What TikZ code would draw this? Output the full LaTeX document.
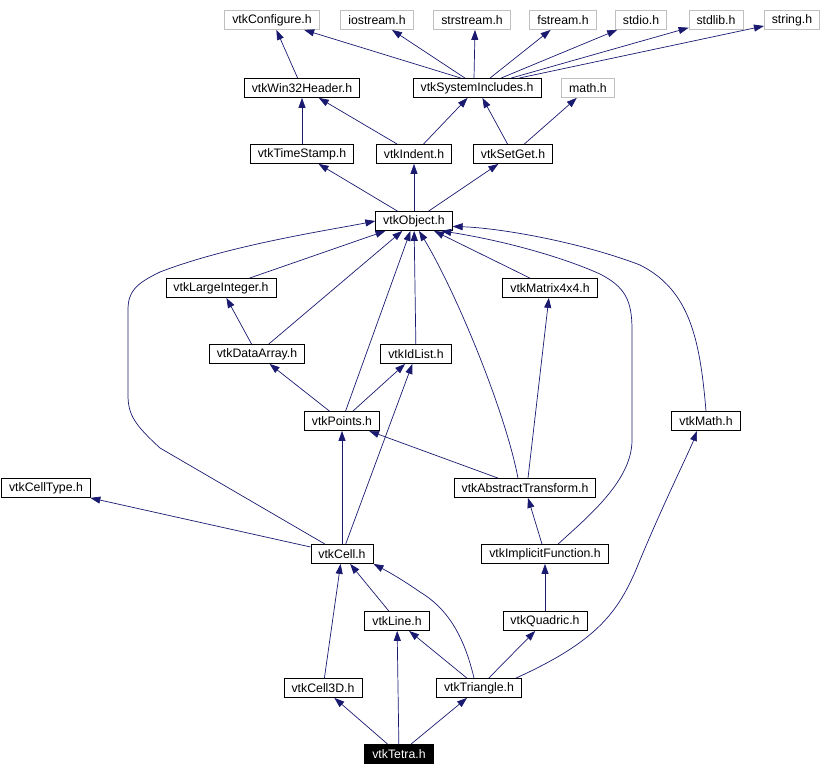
\documentclass[tikz,border=0pt]{standalone}
\usepackage{fontspec}
\setmainfont{Liberation Sans}
\usetikzlibrary{arrows.meta}
\definecolor{edgeblue}{HTML}{191970}
\definecolor{extgray}{HTML}{BFBFBF}

\begin{document}
\begin{tikzpicture}[x=1pt, y=-1pt,
  hdr/.style={draw=black, line width=0.8pt, minimum height=19pt, inner xsep=7.5pt, inner ysep=0pt, font=\fontsize{12.3}{14}\selectfont},
  syshdr/.style={hdr, draw=extgray},
  focushdr/.style={hdr, fill=black, text=white},
  dep/.style={-{Triangle[length=10pt,width=7pt]}, draw=edgeblue, line width=0.7pt},
]
\useasboundingbox (0,0) rectangle (821,776);

% === System headers (top row) ===
\node[syshdr] (cfg) at (272,20) {vtkConfigure.h};
\node[syshdr] (iostr) at (377,20) {iostream.h};
\node[syshdr] (strstr) at (472,20) {strstream.h};
\node[syshdr] (fstr) at (563,20) {fstream.h};
\node[syshdr] (stdio) at (641,20) {stdio.h};
\node[syshdr] (stdlib) at (716,20) {stdlib.h};
\node[syshdr] (string) at (792,20) {string.h};

% === Common headers ===
\node[hdr] (w32) at (302,88) {vtkWin32Header.h};
\node[hdr] (sysinc) at (477,88) {vtkSystemIncludes.h};
\node[syshdr] (mathh) at (588,88) {math.h};

\node[hdr] (tstamp) at (302,154) {vtkTimeStamp.h};
\node[hdr] (indent) at (414,154) {vtkIndent.h};
\node[hdr] (setget) at (513,154) {vtkSetGet.h};

\node[hdr] (obj) at (414,221) {vtkObject.h};

% === Data and math headers ===
\node[hdr] (lint) at (221,288) {vtkLargeInteger.h};
\node[hdr] (mat4) at (550,288) {vtkMatrix4x4.h};
\node[hdr] (dataarr) at (257,354) {vtkDataArray.h};
\node[hdr] (idlist) at (416,354) {vtkIdList.h};
\node[hdr] (points) at (342,421) {vtkPoints.h};
\node[hdr] (vmath) at (706,421) {vtkMath.h};

% === Cell headers ===
\node[hdr] (celltype) at (46,488) {vtkCellType.h};
\node[hdr] (abstr) at (525,488) {vtkAbstractTransform.h};
\node[hdr] (cell) at (342,554) {vtkCell.h};
\node[hdr] (implf) at (545,554) {vtkImplicitFunction.h};
\node[hdr] (line) at (397,621) {vtkLine.h};
\node[hdr] (quadric) at (545,621) {vtkQuadric.h};
\node[hdr] (cell3d) at (323,688) {vtkCell3D.h};
\node[hdr] (tri) at (479,688) {vtkTriangle.h};
\node[focushdr] (tetra) at (399,754) {vtkTetra.h};

% === Includes ===
\draw[dep] (w32) -- (cfg);
\draw[dep] ([xshift=-16pt]sysinc.north) -- (cfg);
\draw[dep] ([xshift=-12pt]sysinc.north) -- (iostr);
\draw[dep] ([xshift=-3pt]sysinc.north) -- ([xshift=3pt]strstr.south);
\draw[dep] ([xshift=13pt]sysinc.north) -- (fstr);
\draw[dep] ([xshift=24pt]sysinc.north) -- (stdio);
\draw[dep] ([xshift=34pt]sysinc.north) -- (stdlib);
\draw[dep] ([xshift=42pt]sysinc.north) -- (string);

\draw[dep] (tstamp) -- (w32);
\draw[dep] (indent) -- (w32);
\draw[dep] (indent) -- (sysinc);
\draw[dep] (setget) -- (sysinc);
\draw[dep] (setget) -- (mathh);

\draw[dep] (obj) -- (tstamp);
\draw[dep] (obj) -- (indent);
\draw[dep] (obj) -- (setget);

\draw[dep] (lint) -- (obj);
\draw[dep] (mat4) -- (obj);
\draw[dep] (dataarr) -- (lint);
\draw[dep] (dataarr) -- (obj);
\draw[dep] (idlist) -- (obj);
\draw[dep] (points) -- (dataarr);
\draw[dep] (points) -- (idlist);
\draw[dep] (points) -- (obj);
\draw[dep] (vmath.north) .. controls (700,340) and (690,290) .. (640,265)
  .. controls (580,242) and (500,228) .. (obj.-8);

\draw[dep] (abstr) -- (points);
\draw[dep] ([xshift=3pt]abstr.north) -- (mat4);
\draw[dep] ([xshift=-7pt]abstr.north) .. controls (505,410) and (455,290) .. ([xshift=5pt]obj.south);

\draw[dep] (cell) -- (celltype);
\draw[dep] (cell) -- (points);
\draw[dep] (cell) -- (idlist);
\draw[dep] ([xshift=-17pt]cell.north) -- (160,448) .. controls (135,425) and (128,415) .. (128,395)
  -- (128,310) .. controls (128,292) and (135,284) .. (160,272)
  .. controls (230,245) and (330,230) .. (obj.west);

\draw[dep] (implf) -- (abstr);
\draw[dep] ([xshift=13pt]implf.north) .. controls (590,515) and (632,480) .. (632,440)
  -- (632,330) .. controls (632,300) and (625,287) .. (600,274)
  .. controls (560,256) and (500,240) .. (obj.-20);

\draw[dep] (line) -- (cell);
\draw[dep] (quadric) -- (implf);
\draw[dep] (cell3d) -- (cell);

\draw[dep] (tri) -- (line);
\draw[dep] ([xshift=-5pt]tri.north) .. controls (465,640) and (450,610) .. (420,592)
  .. controls (400,578) and (385,570) .. (cell.south east);
\draw[dep] (tri) -- (quadric);
\draw[dep] ([xshift=-6pt]tri.north east) .. controls (600,640) and (620,610) .. (640,560)
  .. controls (665,500) and (690,450) .. ([xshift=-9pt]vmath.south);

\draw[dep] (tetra) -- (cell3d);
\draw[dep] (tetra) -- (line);
\draw[dep] (tetra) -- (tri);

\end{tikzpicture}
\end{document}
